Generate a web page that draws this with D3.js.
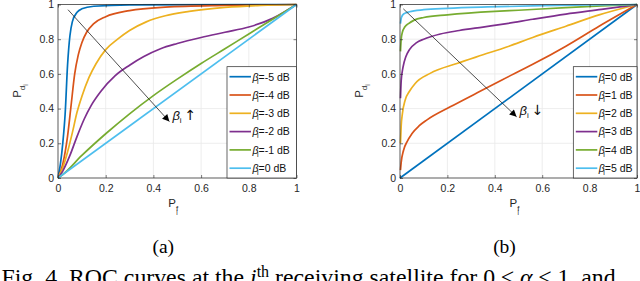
<!DOCTYPE html>
<html>
<head>
<meta charset="utf-8">
<script src="https://cdn.jsdelivr.net/npm/d3@7"></script>
<style>
  body { margin: 0; background: #fff; }
  svg { display: block; }
  text { font-family: "Liberation Sans", Arial, sans-serif; }
</style>
</head>
<body>
<script>
var W = 640, H = 281;

// ---- data ----
var ticks = [0, 0.2, 0.4, 0.6, 0.8, 1];
var tickLabels = ["0", "0.2", "0.4", "0.6", "0.8", "1"];
var colors = ["#0072BD", "#D95319", "#EDB120", "#7E2F8E", "#77AC30", "#4DBEEE"];

// (a) beta = -5 ... 0 dB,  points are [Pf, Pd]
var betaA = ["-5", "-4", "-3", "-2", "-1", "0"];
var curveA_m5 = [[0,0],[0.01,0.08],[0.02,0.2],[0.03,0.37],[0.04,0.65],[0.05,0.82],[0.06,0.9],[0.08,0.955],[0.1,0.975],[0.15,0.99],[0.3,0.998],[1,1]];
var curveA_m4 = [[0,0],[0.02,0.08],[0.04,0.24],[0.055,0.42],[0.07,0.6],[0.085,0.71],[0.1,0.78],[0.12,0.84],[0.15,0.89],[0.2,0.93],[0.3,0.965],[0.45,0.985],[0.7,0.995],[1,1]];
var curveA_m3 = [[0,0],[0.02,0.06],[0.04,0.15],[0.06,0.26],[0.08,0.38],[0.1,0.47],[0.13,0.58],[0.16,0.66],[0.2,0.74],[0.25,0.8],[0.3,0.85],[0.37,0.9],[0.45,0.935],[0.55,0.96],[0.7,0.983],[0.85,0.995],[1,1]];
var curveA_m2 = [[0,0],[0.02,0.04],[0.05,0.13],[0.08,0.24],[0.11,0.34],[0.14,0.42],[0.18,0.5],[0.24,0.59],[0.3,0.65],[0.36,0.7],[0.43,0.745],[0.5,0.775],[0.6,0.81],[0.7,0.84],[0.8,0.87],[0.9,0.92],[1,1]];
var curveA_m1 = [[0,0],[0.02,0.02],[0.1,0.13],[0.2,0.255],[0.3,0.37],[0.4,0.475],[0.5,0.57],[0.6,0.66],[0.7,0.745],[0.8,0.83],[0.9,0.915],[1,1]];
var curveA_0  = [[0,0],[1,1]];

// (b) beta = 0 ... 5 dB
var betaB = ["0", "1", "2", "3", "4", "5"];
var curveB_0 = [[0,0],[1,1]];
var curveB_1 = [[0.002,0.045],[0.005,0.09],[0.015,0.16],[0.03,0.21],[0.05,0.255],[0.08,0.3],[0.114,0.335],[0.212,0.41],[0.324,0.49],[0.43,0.565],[0.56,0.655],[0.7,0.76],[0.84,0.875],[1,1]];
var curveB_2 = [[0.002,0.2],[0.005,0.3],[0.01,0.37],[0.022,0.45],[0.04,0.5],[0.064,0.545],[0.127,0.603],[0.24,0.66],[0.35,0.71],[0.45,0.755],[0.56,0.81],[0.7,0.875],[0.84,0.94],[1,1]];
var curveB_3 = [[0.002,0.46],[0.005,0.56],[0.013,0.64],[0.025,0.7],[0.04,0.74],[0.07,0.78],[0.1,0.8],[0.17,0.83],[0.25,0.85],[0.35,0.87],[0.45,0.89],[0.56,0.915],[0.7,0.945],[0.85,0.972],[1,1]];
var curveB_4 = [[0.002,0.73],[0.005,0.8],[0.01,0.84],[0.02,0.87],[0.036,0.89],[0.06,0.91],[0.1,0.925],[0.2,0.94],[0.4,0.96],[0.5,0.967],[0.7,0.982],[0.85,0.992],[1,1]];
var curveB_5 = [[0.002,0.89],[0.006,0.925],[0.015,0.945],[0.04,0.958],[0.1,0.97],[0.2,0.978],[0.37,0.986],[0.6,0.993],[0.8,0.997],[1,1]];

// arrows, in data units [Pf1, Pd1, Pf2, Pd2]
var arrowA = [0.042, 0.97, 0.467, 0.325];
var arrowB = [0.014, 0.975, 0.492, 0.353];

var svg = d3.select("body").append("svg")
    .attr("width", W)
    .attr("height", H);

svg.append("defs").append("marker")
    .attr("id", "head")
    .attr("markerUnits", "userSpaceOnUse")
    .attr("viewBox", "0 0 10 10")
    .attr("refX", 10).attr("refY", 5)
    .attr("markerWidth", 8).attr("markerHeight", 7)
    .attr("orient", "auto")
  .append("path")
    .attr("d", "M0,0 L10,5 L0,10 z")
    .attr("fill", "#000");

function drawPanel(p) {
    var x = d3.scaleLinear().domain([0, 1]).range([p.left, p.right]);
    var y = d3.scaleLinear().domain([0, 1]).range([178, 4.5]);
    var g = svg.append("g");

    // grid
    g.selectAll(".gx").data(ticks).enter().append("line")
        .attr("x1", d => x(d)).attr("x2", d => x(d))
        .attr("y1", y(0)).attr("y2", y(1))
        .attr("stroke", "#e8e8e8").attr("stroke-width", 0.8);
    g.selectAll(".gy").data(ticks).enter().append("line")
        .attr("y1", d => y(d)).attr("y2", d => y(d))
        .attr("x1", x(0)).attr("x2", x(1))
        .attr("stroke", "#e8e8e8").attr("stroke-width", 0.8);

    // curves
    var line = d3.line()
        .x(d => x(d[0]))
        .y(d => y(d[1]))
        .curve(d3.curveMonotoneX);
    p.curves.forEach(function(c, i) {
        g.append("path")
            .attr("d", line(c))
            .attr("fill", "none")
            .attr("stroke", colors[i])
            .attr("stroke-width", 1.7);
    });

    // axes (ticks inside like matlab)
    var fmt = (d, i) => tickLabels[i];
    g.append("g").attr("transform", "translate(0," + y(0) + ")")
        .call(d3.axisBottom(x).tickValues(ticks).tickFormat(fmt).tickSize(-3).tickSizeOuter(0).tickPadding(7));
    g.append("g").attr("transform", "translate(" + x(0) + ",0)")
        .call(d3.axisLeft(y).tickValues(ticks).tickFormat(fmt).tickSize(-3).tickSizeOuter(0).tickPadding(4));
    g.append("g").attr("transform", "translate(0," + y(1) + ")")
        .call(d3.axisTop(x).tickValues(ticks).tickFormat("").tickSize(-3).tickSizeOuter(0));
    g.append("g").attr("transform", "translate(" + x(1) + ",0)")
        .call(d3.axisRight(y).tickValues(ticks).tickFormat("").tickSize(-3).tickSizeOuter(0));
    g.selectAll(".domain").remove();
    g.selectAll(".tick line").attr("stroke", "#262626").attr("stroke-width", 0.6);
    g.selectAll(".tick text").attr("fill", "#262626").style("font-size", "10.5px")
        .style("font-family", "'Liberation Sans', Arial, sans-serif");

    g.append("rect")
        .attr("x", x(0)).attr("y", y(1))
        .attr("width", x(1) - x(0)).attr("height", y(0) - y(1))
        .attr("fill", "none").attr("stroke", "#262626").attr("stroke-width", 0.7);

    // arrow + label
    var a = p.arrow;
    g.append("line")
        .attr("x1", x(a[0])).attr("y1", y(a[1]))
        .attr("x2", x(a[2])).attr("y2", y(a[3]))
        .attr("stroke", "#222").attr("stroke-width", 0.8)
        .attr("marker-end", "url(#head)");
    var at = g.append("text")
        .attr("x", x(a[2]) + 3).attr("y", y(a[3]) - 2)
        .attr("fill", "#111").style("font-size", "13px");
    at.append("tspan").style("font-style", "italic").text("β");
    at.append("tspan").attr("dy", 3).style("font-size", "8px").text("i");
    at.append("tspan").attr("dy", -3).attr("dx", 3)
        .style("font-family", "'DejaVu Sans', sans-serif").style("font-size", "14px").text(p.sym);

    // legend
    var lx = p.legendX, ly = 66.7, lw = x(1) - p.legendX, lh = y(0) - ly;
    var lg = g.append("g");
    lg.append("rect")
        .attr("x", lx).attr("y", ly).attr("width", lw).attr("height", lh)
        .attr("fill", "#fff").attr("stroke", "#262626").attr("stroke-width", 0.7);
    p.betas.forEach(function(b, i) {
        var yy = ly + 10 + i * 18.3;
        lg.append("line")
            .attr("x1", lx + 2.5).attr("x2", lx + 24)
            .attr("y1", yy).attr("y2", yy)
            .attr("stroke", colors[i]).attr("stroke-width", 1.7);
        var t = lg.append("text")
            .attr("x", lx + 25.5).attr("y", yy + 3.8)
            .attr("fill", "#111").style("font-size", "10.5px");
        t.append("tspan").style("font-style", "italic").text("β");
        t.append("tspan").attr("dy", 3).attr("dx", -1.5).style("font-size", "7px").text("i");
        t.append("tspan").attr("dy", -3).text("=" + b + " dB");
    });

    // axis labels
    var xl = g.append("text")
        .attr("x", (x(0) + x(1)) / 2 - 4).attr("y", 207)
        .attr("text-anchor", "middle").attr("fill", "#262626").style("font-size", "11.5px");
    xl.append("tspan").text("P");
    xl.append("tspan").attr("dy", 4).style("font-size", "8px").text("f");
    xl.append("tspan").attr("dy", 4).attr("dx", -2).style("font-size", "6.5px").text("i");

    var yl = g.append("text")
        .attr("transform", "translate(" + (p.left - 37) + ",91) rotate(-90)")
        .attr("text-anchor", "middle").attr("fill", "#262626").style("font-size", "11.5px");
    yl.append("tspan").text("P");
    yl.append("tspan").attr("dy", 4).style("font-size", "8px").text("d");
    yl.append("tspan").attr("dy", 3).style("font-size", "6.5px").text("i");

    // panel tag
    svg.append("text")
        .attr("x", (x(0) + x(1)) / 2 - 14).attr("y", 253)
        .attr("text-anchor", "middle")
        .style("font-family", "'Liberation Serif', 'Times New Roman', serif")
        .style("font-size", "19.5px").attr("fill", "#000")
        .text(p.tag);
}

drawPanel({
    left: 58, right: 296.5,
    curves: [curveA_m5, curveA_m4, curveA_m3, curveA_m2, curveA_m1, curveA_0],
    betas: betaA, arrow: arrowA, sym: "\u2191", legendX: 227, tag: "(a)"
});
drawPanel({
    left: 400, right: 637,
    curves: [curveB_0, curveB_1, curveB_2, curveB_3, curveB_4, curveB_5],
    betas: betaB, arrow: arrowB, sym: "\u2193", legendX: 573.3, tag: "(b)"
});

// caption (cut by the bottom edge, as in the figure)
var cap = svg.append("text")
    .attr("x", 1.5).attr("y", 284.5)
    .style("font-family", "'Liberation Serif', 'Times New Roman', serif")
    .style("font-size", "23.8px").attr("fill", "#000");
cap.append("tspan").text("Fig. 4.  ROC curves at the ");
cap.append("tspan").style("font-style", "italic").text("i");
cap.append("tspan").attr("dy", -8).style("font-size", "16px").text("th");
cap.append("tspan").attr("dy", 8).text(" receiving satellite for 0 \u2264 ");
cap.append("tspan").style("font-style", "italic").text("\u03b1");
cap.append("tspan").text(" \u2264 1, and");
</script>
</body>
</html>
